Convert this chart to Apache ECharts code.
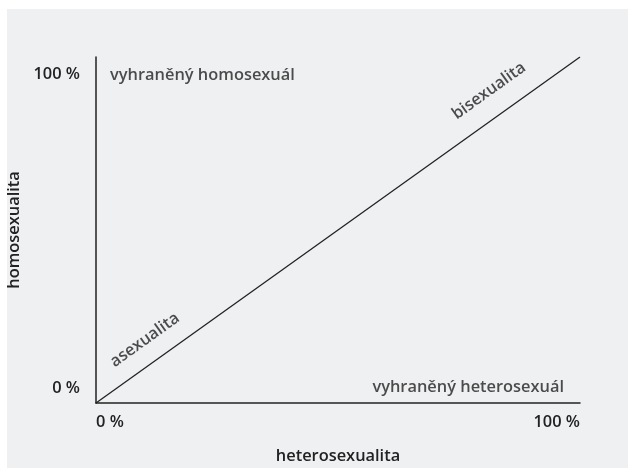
<!DOCTYPE html>
<html>
<head>
<meta charset="utf-8">
<script src="https://cdn.jsdelivr.net/npm/echarts@6/dist/echarts.min.js"></script>
<style>
html,body{margin:0;padding:0;background:#ffffff;}
#c{width:628px;height:468px;}
</style>
</head>
<body>
<div id="c"></div>
<script>
// Data
var lineValues = [[0, 0], [100, 100]];
var xTicks = [0, 100];
var yTicks = [0, 100];
var xName = 'heterosexualita';
var yName = 'homosexualita';
var annotations = [
  { value: [2.9, 94.8], name: 'vyhraněný homosexuál' },
  { value: [96.7, 4.6], name: 'vyhraněný heterosexuál' },
  { value: [81.2, 90.2], name: 'bisexualita' },
  { value: [10.1, 18.2], name: 'asexualita' }
];

var FONT = 'Open Sans';
var FS = 16.4;
var FW = 600;
var TXT = '#222222';
var angle = 35.6;

var chart = echarts.init(document.getElementById('c'), null, { renderer: 'canvas' });
chart.setOption({
  animation: false,
  graphic: [{
    type: 'rect', z: -10, silent: true,
    shape: { x: 7, y: 9, width: 621, height: 459 },
    style: { fill: '#eff0f2' }
  }],
  grid: { left: 96, right: 48, top: 57, bottom: 65, containLabel: false, outerBoundsMode: 'none' },
  xAxis: {
    type: 'value', min: 0, max: 100, interval: 100,
    name: xName, nameLocation: 'middle', nameGap: 45,
    nameTextStyle: { fontFamily: FONT, fontSize: FS, color: TXT, fontWeight: FW },
    axisLine: { show: true, lineStyle: { color: TXT, width: 1.5 } },
    axisTick: { show: false },
    splitLine: { show: false },
    axisLabel: {
      fontFamily: FONT, fontSize: FS, color: TXT, fontWeight: FW, margin: 11,
      alignMinLabel: 'left', alignMaxLabel: 'right',
      formatter: function (v) { return xTicks.indexOf(v) >= 0 ? v + ' %' : ''; }
    }
  },
  yAxis: {
    type: 'value', min: 0, max: 100, interval: 100,
    name: yName, nameLocation: 'middle', nameGap: 71,
    nameTextStyle: { fontFamily: FONT, fontSize: FS, color: TXT, fontWeight: FW },
    axisLine: { show: true, lineStyle: { color: TXT, width: 1.5 } },
    axisTick: { show: false },
    splitLine: { show: false },
    axisLabel: {
      fontFamily: FONT, fontSize: FS, color: TXT, fontWeight: FW, margin: 16,
      formatter: function (v) {
        if (yTicks.indexOf(v) < 0) return '';
        return v === 0 ? '{lo|' + v + ' %}' : '{hi|' + v + ' %}';
      },
      rich: {
        lo: { fontFamily: FONT, fontSize: FS, color: TXT, fontWeight: FW, padding: [0, 0, 30, 0] },
        hi: { fontFamily: FONT, fontSize: FS, color: TXT, fontWeight: FW, padding: [34, 0, 0, 0] }
      }
    }
  },
  series: [{
    type: 'line',
    data: lineValues,
    symbol: 'none',
    lineStyle: { color: TXT, width: 1.3 },
    silent: true
  }, {
    type: 'scatter',
    symbolSize: 0,
    silent: true,
    data: annotations.map(function (a, i) {
      var lab = { show: true, formatter: a.name, fontFamily: FONT, fontSize: FS, color: TXT, fontWeight: FW, position: 'inside', verticalAlign: 'middle' };
      if (i === 0) lab.align = 'left';
      else if (i === 1) lab.align = 'right';
      else { lab.align = 'center'; lab.rotate = angle; }
      return { value: a.value, label: lab };
    })
  }]
});
</script>
</body>
</html>
